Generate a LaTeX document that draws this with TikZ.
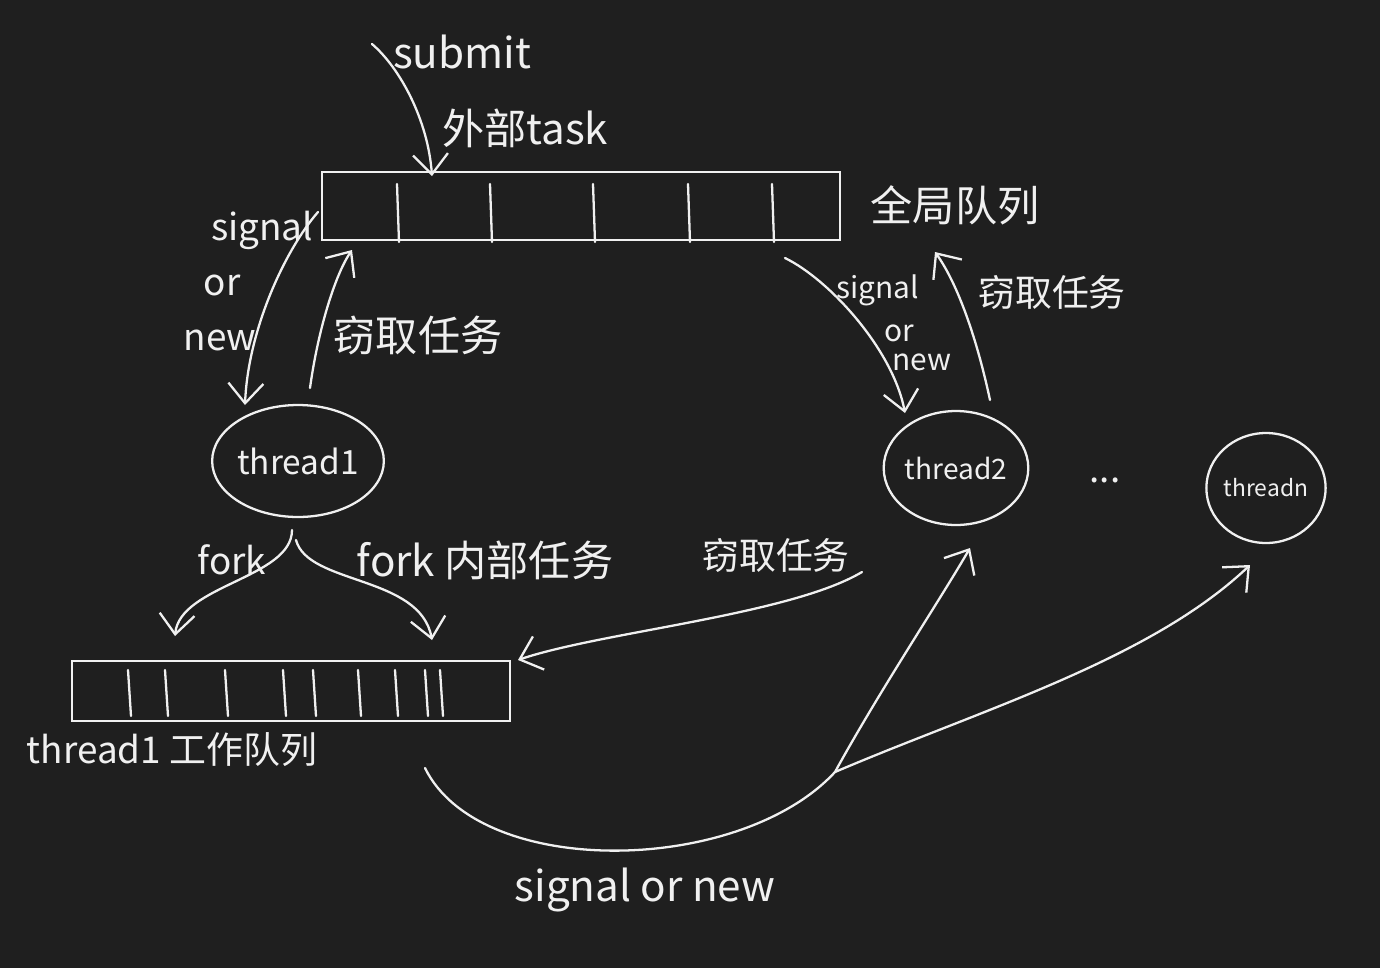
\documentclass[tikz,border=0pt]{standalone}
\usepackage{fontspec}
\setmainfont{Noto Sans CJK SC}
\usetikzlibrary{arrows.meta,shapes.geometric}
\definecolor{bg}{HTML}{1F1F1F}
\definecolor{ink}{HTML}{F0F0F0}
\begin{document}
\begin{tikzpicture}[x=0.02cm,y=-0.02cm,
  inkline/.style={draw=ink,line width=1.3pt,line cap=round},
  arr/.style={inkline,-{Straight Barb[length=4mm,width=7mm,line width=1.3pt]}},
  lbl/.style={text=ink,inner sep=1pt},
  queue/.style={draw=ink,line width=1.3pt,rectangle,inner sep=0pt},
  thr/.style={draw=ink,line width=1.3pt,ellipse,inner sep=0pt,text=ink},
  fa/.style={font=\fontsize{24}{28}\selectfont},
  fb/.style={font=\fontsize{21}{25}\selectfont},
  fc/.style={font=\fontsize{17}{19}\selectfont}]
\fill[bg] (0,0) rectangle (1380,968);
\useasboundingbox (0,0) rectangle (1380,968);

% global queue
\node[queue,minimum width=10.36cm,minimum height=1.36cm] (gq) at (581,206) {};
\foreach \x in {397,490,593,688,772} \draw[inkline] (\x,184) -- (\x+2,242);
% thread1 work queue
\node[queue,minimum width=8.76cm,minimum height=1.2cm] (wq) at (291,691) {};
\foreach \x in {128,165,225,283,313,358,395,425,440} \draw[inkline] (\x,670) -- (\x+3,716);

% threads
\node[thr,minimum width=3.16cm,minimum height=2.24cm,font=\fontsize{19}{22}\selectfont] (t1) at (298,461) {thread1};
\node[thr,minimum width=2.64cm,minimum height=2.28cm,font=\fontsize{16}{18}\selectfont] (t2) at (956,468) {thread2};
\node[thr,minimum width=2.16cm,minimum height=2.2cm,font=\fontsize{13}{15}\selectfont] (tn) at (1266,488) {threadn};
\node[lbl,fb] (dots) at (1105,480) {...};

% labels
\node[lbl,fa] (submit) at (462,52) {submit};
\node[lbl,fa] (ext) at (525,128) {外部task};
\node[lbl,fa] (gqlbl) at (955,205) {全局队列};
\node[lbl,fb] (sigL1) at (262,230) {signal};
\node[lbl,fb] (sigL2) at (222,285) {or};
\node[lbl,fb] (sigL3) at (220,340) {new};
\node[lbl,fa] (stealL) at (418,335) {窃取任务};
\node[lbl,fc] (sigR1) at (878,290) {signal};
\node[lbl,fc] (sigR2) at (899,333) {or};
\node[lbl,fc] (sigR3) at (922,362) {new};
\node[lbl,fb] (stealR) at (1052,292) {窃取任务};
\node[lbl,fb] (forkL) at (232,560) {fork};
\node[lbl,fa] (forkR) at (485,560) {fork 内部任务};
\node[lbl,fb] (stealM) at (776,555) {窃取任务};
\node[lbl,fb] (wqlbl) at (172,750) {thread1 工作队列};
\node[lbl,fa] (sigB) at (645,890) {signal or new};

% coordinates for connector ends
\coordinate (subS) at (372,44);
\coordinate (gqS) at (432,176);
\coordinate (gqL) at (318,212);
\coordinate (t1N) at (245,405);
\coordinate (t1U) at (310,388);
\coordinate (gqU) at (352,250);
\coordinate (gqR) at (785,258);
\coordinate (t2N) at (905,413);
\coordinate (t2U) at (990,400);
\coordinate (gqU2) at (935,252);
\coordinate (t1S) at (292,530);
\coordinate (t1S2) at (296,540);
\coordinate (wqF1) at (175,636);
\coordinate (wqF2) at (432,640);
\coordinate (stS) at (862,572);
\coordinate (wqE) at (518,660);
\coordinate (wqB) at (425,768);
\coordinate (split) at (835,772);
\coordinate (t2S) at (970,548);
\coordinate (tnS) at (1250,565);

% connectors
\draw[arr] (subS) .. controls (400,68) and (428,120) .. (gqS);
\draw[arr] (gqL) .. controls (285,250) and (248,330) .. (t1N);
\draw[arr] (t1U) .. controls (318,330) and (335,275) .. (gqU);
\draw[arr] (gqR) .. controls (830,280) and (893,350) .. (t2N);
\draw[arr] (t2U) .. controls (975,330) and (955,280) .. (gqU2);
\draw[arr] (t1S) .. controls (292,578) and (180,585) .. (wqF1);
\draw[arr] (t1S2) .. controls (308,585) and (420,575) .. (wqF2);
\draw[arr] (stS) .. controls (790,615) and (600,632) .. (wqE);
\draw[inkline] (wqB) .. controls (480,880) and (740,875) .. (split);
\draw[arr] (split) .. controls (880,690) and (940,600) .. (t2S);
\draw[arr] (split) .. controls (980,710) and (1150,660) .. (tnS);
\end{tikzpicture}
\end{document}
